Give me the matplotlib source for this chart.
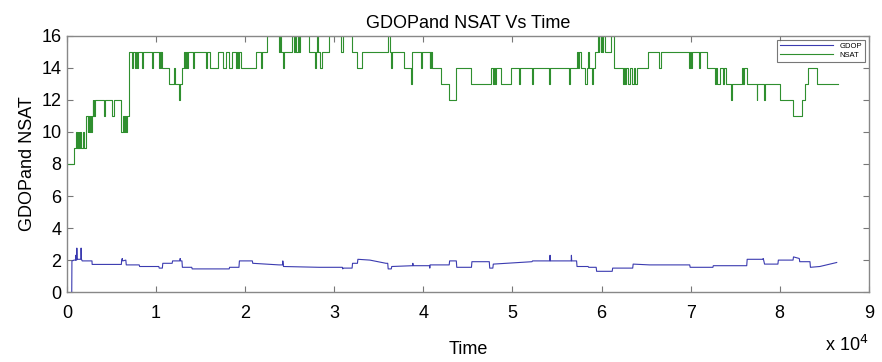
import matplotlib
matplotlib.use("Agg")
import matplotlib.pyplot as plt
import numpy as np

plt.rcParams['font.family'] = ['Liberation Sans', 'DejaVu Sans']

# === Dati (tempo in unita' di 1e4 s) ===
# NSAT: gradini (t, valore), tenuto fino al punto successivo
nsat_t = [0.00, 0.08, 0.10, 0.11, 0.12, 0.125, 0.13, 0.135, 0.15, 0.16, 0.18, 0.19,
          0.21, 0.215, 0.23, 0.24, 0.25, 0.26, 0.27, 0.28, 0.29, 0.295, 0.30, 0.305, 0.31,
          0.415, 0.43, 0.51, 0.525, 0.607, 0.61, 0.625, 0.64, 0.655, 0.665, 0.675,
          0.697, 0.73, 0.742, 0.764, 0.776, 0.787, 0.799, 0.843, 0.855, 0.955, 0.967,
          1.03, 1.04, 1.05, 1.06, 1.067, 1.146, 1.20, 1.215, 1.26, 1.27, 1.292,
          1.31, 1.32, 1.33, 1.345, 1.36, 1.41, 1.42, 1.56, 1.57, 1.61, 1.69, 1.75, 1.78,
          1.82, 1.85, 1.90, 1.91, 1.92, 1.93, 1.955, 2.124, 2.175, 2.19, 2.247,
          2.38, 2.39, 2.40, 2.42, 2.435, 2.528, 2.545, 2.56, 2.575, 2.59, 2.60, 2.615,
          2.719, 2.785, 2.80, 2.81, 2.82, 2.845, 2.86, 2.944, 3.08, 3.095,
          3.202, 3.258, 3.315, 3.60, 3.63, 3.635, 3.645, 3.787, 3.86, 3.87, 3.876,
          3.975, 3.985, 4.07, 4.075, 4.085, 4.09, 4.101, 4.202, 4.292, 4.371, 4.539,
          4.764, 4.78, 4.79, 4.80, 4.81, 4.87, 4.985, 5.075, 5.087, 5.22, 5.232,
          5.41, 5.422, 5.635, 5.647, 5.72, 5.74, 5.75, 5.775, 5.82, 5.835, 5.85, 5.86,
          5.89, 5.905, 5.93, 5.955, 5.97, 5.975, 5.99, 5.995, 6.01, 6.015, 6.034,
          6.11, 6.135, 6.236, 6.25, 6.26, 6.28, 6.30, 6.32, 6.34, 6.36, 6.38, 6.40,
          6.43, 6.517, 6.65, 6.665, 6.985, 6.995, 7.005, 7.012, 7.095, 7.107,
          7.18, 7.27, 7.285, 7.30, 7.33, 7.36, 7.38, 7.40, 7.455, 7.465, 7.573,
          7.59, 7.60, 7.635, 7.74, 7.75, 7.825, 7.84, 8.0, 8.146, 8.247, 8.281,
          8.315, 8.416, 8.652]
nsat_v = [8, 9, 10, 9, 10, 9, 10, 9, 10, 9, 10, 9,
          10, 11, 10, 11, 10, 11, 10, 11, 12, 11, 12, 11, 12,
          11, 12, 11, 12, 11, 10, 11, 10, 11, 10, 11,
          15, 14, 15, 14, 15, 14, 15, 14, 15, 14, 15,
          14, 15, 14, 15, 14, 13, 14, 13, 12, 13, 14,
          15, 14, 15, 14, 15, 14, 15, 14, 15, 14, 15, 14, 15,
          14, 15, 14, 15, 14, 15, 14, 15, 14, 15, 16,
          15, 16, 15, 14, 15, 16, 15, 16, 15, 16, 15, 16,
          15, 14, 15, 16, 15, 14, 15, 16, 15, 16,
          15, 14, 15, 16, 15, 14, 15, 14, 13, 14, 15,
          14, 15, 14, 15, 14, 15, 14, 13, 12, 14, 13,
          14, 13, 14, 13, 14, 13, 14, 13, 14, 13, 14,
          13, 14, 13, 14, 15, 14, 15, 14, 13, 14, 15, 14,
          13, 14, 15, 16, 15, 16, 15, 16, 15, 16, 15,
          16, 14, 13, 14, 13, 14, 13, 14, 13, 14, 13, 14,
          14, 15, 14, 15, 14, 15, 14, 15, 14, 15,
          14, 13, 14, 13, 14, 13, 14, 13, 12, 13, 14,
          13, 14, 13, 12, 13, 12, 13, 12, 11, 12, 13,
          14, 13, 13]

# GDOP: vertici della linea
gdop_t = [0.053, 0.055, 0.08, 0.095, 0.097, 0.10, 0.108, 0.11, 0.113, 0.155, 0.158,
          0.162, 0.17, 0.28, 0.282, 0.61, 0.613, 0.62, 0.625, 0.66, 0.665, 0.81, 0.815,
          1.03, 1.035, 1.07, 1.075, 1.18, 1.185, 1.265, 1.27, 1.275, 1.29, 1.295, 1.40,
          1.405, 1.82, 1.825, 1.93, 1.935, 2.08, 2.085, 2.38, 2.42, 2.422, 2.43, 2.83,
          3.09, 3.095, 3.10, 3.20, 3.205, 3.26, 3.265, 3.40, 3.58, 3.60, 3.605, 3.64,
          3.645, 3.88, 3.882, 3.885, 4.07, 4.072, 4.075, 4.29, 4.295, 4.37, 4.375, 4.54,
          4.545, 4.74, 4.745, 4.78, 4.785, 5.22, 5.225, 5.42, 5.422, 5.425, 5.66, 5.662,
          5.665, 5.72, 5.725, 5.85, 5.855, 5.94, 5.945, 6.12, 6.125, 6.35, 6.355, 6.54,
          6.99, 6.995, 7.25, 7.255, 7.63, 7.635, 7.81, 7.815, 7.82, 7.83, 7.98, 7.985,
          8.15, 8.155, 8.22, 8.225, 8.34, 8.345, 8.45, 8.64]
gdop_v = [0.0, 1.95, 2.0, 2.0, 2.3, 2.0, 2.0, 2.75, 2.05, 2.05, 2.75,
          2.05, 1.95, 1.95, 1.73, 1.73, 2.0, 2.1, 1.95, 2.0, 1.7, 1.7, 1.6,
          1.6, 1.5, 1.5, 1.8, 1.8, 1.95, 1.95, 2.1, 1.95, 1.95, 1.55, 1.55,
          1.45, 1.45, 1.55, 1.55, 1.95, 1.95, 1.8, 1.7, 1.7, 1.95, 1.6, 1.55,
          1.55, 1.45, 1.5, 1.5, 1.8, 1.8, 2.05, 2.0, 1.8, 1.8, 1.45, 1.45,
          1.6, 1.65, 1.8, 1.65, 1.65, 1.5, 1.7, 1.7, 1.95, 1.95, 1.55, 1.55,
          1.9, 1.9, 1.5, 1.5, 1.75, 1.9, 1.95, 1.95, 2.3, 1.95, 1.95, 2.3,
          1.95, 1.95, 1.6, 1.6, 1.55, 1.55, 1.3, 1.3, 1.5, 1.5, 1.75, 1.7,
          1.7, 1.55, 1.55, 1.65, 1.65, 2.05, 2.05, 2.1, 2.0, 1.75, 1.75, 2.0,
          2.0, 2.2, 2.1, 1.9, 1.9, 1.55, 1.6, 1.85]

xtick_labels = ['0', '1', '2', '3', '4', '5', '6', '7', '8', '9']
ytick_vals = [0, 2, 4, 6, 8, 10, 12, 14, 16]

# === Grafico ===
fig = plt.figure(figsize=(8.82, 3.62), dpi=100)
ax = fig.add_axes([0.076, 0.193, 0.909, 0.708])

ax.plot(gdop_t, gdop_v, color='#3b3bb0', linewidth=0.8, label='GDOP')
ax.step(nsat_t, nsat_v, where='post', color='#2f8f2f', linewidth=0.8, label='NSAT')

ax.set_xlim(0, 9)
ax.set_ylim(0, 16)
ax.set_xticks(range(10))
ax.set_xticklabels(xtick_labels)
ax.set_yticks(ytick_vals)
ax.tick_params(direction='in', top=True, right=True, labelsize=13, length=4,
               color='#777777')
ax.tick_params(axis='x', pad=9)
ax.tick_params(axis='y', pad=4)
for s in ax.spines.values():
    s.set_color('#888888')
    s.set_linewidth(1.0)

ax.set_title('GDOPand NSAT Vs Time', fontsize=13, pad=6)
ax.set_ylabel('GDOPand NSAT', fontsize=13, labelpad=4)
ax.set_xlabel('Time', fontsize=13, labelpad=14)
fig.text(0.935, 0.018, r'x 10$^4$', fontsize=13, ha='left', va='bottom')

leg = ax.legend(loc='upper right', fontsize=5.5, handlelength=7, frameon=True,
                fancybox=False, edgecolor='#555555', borderpad=0.4,
                labelspacing=0.2, markerfirst=True)
leg.get_frame().set_linewidth(0.8)

fig.savefig('out.png', dpi=100)
